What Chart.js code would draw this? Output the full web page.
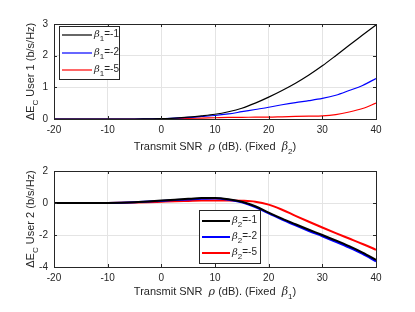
<!DOCTYPE html>
<html>
<head>
<meta charset="utf-8">
<script src="https://cdn.jsdelivr.net/npm/chart.js@4"></script>
<style>
  html, body { margin: 0; padding: 0; background: #fff; }
  .wrap { position: relative; width: 415px; height: 156px; }
</style>
</head>
<body>
<div class="wrap"><canvas id="top"></canvas></div>
<div class="wrap"><canvas id="bottom"></canvas></div>
<script>
// transmit SNR (dB)
const snr = [-20, -17.5, -15, -12.5, -10, -7.5, -5, -2.5, 0, 2.5, 5, 7.5, 10,
  12.5, 15, 17.5, 20, 22.5, 25, 27.5, 30, 32.5, 35, 37.5, 40];
const xTicks = [-20, -10, 0, 10, 20, 30, 40];

// user 1, fixed beta2
const user1B1 = [0, 0, 0, 0, 0, 0, 0, 0.005, 0.01, 0.03, 0.06, 0.1, 0.15,
  0.23, 0.34, 0.5, 0.69, 0.9, 1.13, 1.39, 1.68, 2.0, 2.33, 2.65, 2.97];
const user1B2 = [0, 0, 0, 0, 0, 0, 0, 0.005, 0.01, 0.03, 0.05, 0.08, 0.11,
  0.16, 0.23, 0.3, 0.37, 0.45, 0.52, 0.58, 0.65, 0.75, 0.9, 1.06, 1.28];
const user1B5 = [0, 0, 0, 0, 0, 0, 0, 0, 0.01, 0.015, 0.02, 0.03, 0.04,
  0.05, 0.05, 0.06, 0.06, 0.07, 0.08, 0.09, 0.1, 0.14, 0.22, 0.33, 0.5];
const user1Ticks = [0, 1, 2, 3];

// user 2, fixed beta1
const user2B1 = [0, 0, 0, 0, 0.005, 0.02, 0.05, 0.1, 0.15, 0.2, 0.26, 0.31, 0.32,
  0.24, 0.08, -0.2, -0.6, -0.98, -1.33, -1.67, -2.0, -2.34, -2.7, -3.1, -3.55];
const user2B2 = [0, 0, 0, 0, 0.005, 0.02, 0.05, 0.09, 0.13, 0.18, 0.22, 0.26, 0.28,
  0.21, 0.05, -0.25, -0.65, -1.03, -1.4, -1.75, -2.08, -2.42, -2.78, -3.18, -3.65];
const user2B5 = [0, 0, 0, 0, 0.005, 0.015, 0.03, 0.05, 0.08, 0.11, 0.13, 0.15, 0.16,
  0.16, 0.14, 0.08, -0.1, -0.42, -0.8, -1.17, -1.53, -1.88, -2.22, -2.56, -2.92];
const user2Ticks = [-4, -2, 0, 2];

const betaLabels = ["-1", "-2", "-5"];
const lineColors = ["#000000", "#0000ff", "#ff0000"];

const FONT = "Liberation Sans, Arial, Helvetica, sans-serif";
const TXT = "#262626";

function setFont(ctx, mode, size) {
  if (mode === "s") ctx.font = Math.round(size * 0.75) + "px " + FONT;
  else if (mode === "i") ctx.font = "italic " + size + "px DejaVu Serif, serif";
  else ctx.font = size + "px " + FONT;
}

function drawParts(ctx, parts, x, y, size) {
  let cx = x;
  parts.forEach(([t, mode]) => {
    setFont(ctx, mode, size);
    ctx.fillText(t, cx, mode === "s" ? y + size * 0.35 : y);
    cx += ctx.measureText(t).width;
  });
  return cx - x;
}

function measureParts(ctx, parts, size) {
  let w = 0;
  parts.forEach(([t, mode]) => {
    setFont(ctx, mode, size);
    w += ctx.measureText(t).width;
  });
  return w;
}

function framePlugin(cfg) {
  return {
    id: "frame_" + cfg.id,
    afterDraw(chart) {
      const ctx = chart.ctx;
      const a = chart.chartArea;
      const xs = chart.scales.x, ys = chart.scales.y;
      ctx.save();
      // box
      ctx.strokeStyle = TXT;
      ctx.lineWidth = 1;
      ctx.strokeRect(Math.round(a.left) + 0.5, Math.round(a.top) + 0.5,
        Math.round(a.right - a.left), Math.round(a.bottom - a.top));
      // inward ticks
      ctx.beginPath();
      xTicks.forEach((v) => {
        const px = Math.round(xs.getPixelForValue(v)) + 0.5;
        ctx.moveTo(px, a.bottom); ctx.lineTo(px, a.bottom - 3);
        ctx.moveTo(px, a.top); ctx.lineTo(px, a.top + 3);
      });
      cfg.yTicks.forEach((v) => {
        const py = Math.round(ys.getPixelForValue(v)) + 0.5;
        ctx.moveTo(a.left, py); ctx.lineTo(a.left + 3, py);
        ctx.moveTo(a.right, py); ctx.lineTo(a.right - 3, py);
      });
      ctx.stroke();

      // x title
      ctx.fillStyle = TXT;
      ctx.textBaseline = "alphabetic";
      ctx.textAlign = "left";
      const xParts = [["Transmit SNR  ", "n"], ["ρ", "i"], [" (dB). (Fixed  ", "n"], ["β", "i"], [cfg.fixedSub, "s"], [")", "n"]];
      const xw = measureParts(ctx, xParts, 11);
      drawParts(ctx, xParts, (a.left + a.right) / 2 - xw / 2, cfg.xTitleY, 11);

      // y title (rotated)
      ctx.save();
      ctx.translate(34, (a.top + a.bottom) / 2);
      ctx.rotate(-Math.PI / 2);
      const yParts = [["ΔE", "n"], ["C", "s"], [" User " + cfg.user + " (b/s/Hz)", "n"]];
      const yw = measureParts(ctx, yParts, 11);
      drawParts(ctx, yParts, -yw / 2, 0, 11);
      ctx.restore();

      // legend
      const L = cfg.legend;
      ctx.fillStyle = "#ffffff";
      ctx.fillRect(L.x, L.y, L.w, L.h);
      ctx.strokeStyle = "#262626";
      ctx.lineWidth = 1;
      ctx.strokeRect(L.x + 0.5, L.y + 0.5, L.w, L.h);
      betaLabels.forEach((b, i) => {
        const ry = L.rows[i];
        ctx.strokeStyle = lineColors[i];
        ctx.lineWidth = cfg.lineWidth;
        ctx.beginPath();
        ctx.moveTo(L.lineX0, ry); ctx.lineTo(L.lineX1, ry);
        ctx.stroke();
        ctx.fillStyle = TXT;
        drawParts(ctx, [["β", "i"], [cfg.legendSub, "s"], ["=" + b, "n"]], L.textX, ry + 2, 10);
      });
      ctx.restore();
    }
  };
}

function makeChart(id, series, yMin, yMax, yTicks, cfg) {
  const datasets = series.map((s, i) => ({
    label: "β=" + betaLabels[i],
    data: snr.map((x, j) => ({ x: x, y: s[j] })),
    borderColor: lineColors[i],
    borderWidth: cfg.lineWidth,
    pointRadius: 0,
    fill: false,
    cubicInterpolationMode: "monotone"
  }));
  cfg.yTicks = yTicks;
  return new Chart(document.getElementById(id), {
    type: "line",
    data: { datasets: datasets },
    options: {
      responsive: true,
      maintainAspectRatio: false,
      animation: false,
      layout: { padding: { left: 0, right: 39, top: cfg.top, bottom: 0 } },
      plugins: { legend: { display: false }, tooltip: { enabled: false } },
      scales: {
        x: {
          type: "linear",
          min: -20, max: 40,
          afterBuildTicks: (s) => { s.ticks = xTicks.map((v) => ({ value: v })); },
          afterFit: (s) => { s.height = cfg.xAxisH; },
          grid: { color: "#e4e4e4", drawTicks: false },
          border: { display: false },
          ticks: { color: TXT, font: { family: FONT, size: 10 }, padding: 5, maxRotation: 0 }
        },
        y: {
          min: yMin, max: yMax,
          afterBuildTicks: (s) => { s.ticks = yTicks.map((v) => ({ value: v })); },
          afterFit: (s) => { s.width = 54; },
          grid: { color: "#e4e4e4", drawTicks: false },
          border: { display: false },
          ticks: { color: TXT, font: { family: FONT, size: 10 }, padding: 6 }
        }
      }
    },
    plugins: [framePlugin(cfg)]
  });
}

makeChart("top", [user1B1, user1B2, user1B5], 0, 3, user1Ticks, {
  id: "top", top: 24, xAxisH: 37, lineWidth: 1.2, user: 1, fixedSub: "2", legendSub: "1",
  xTitleY: 150,
  legend: { x: 59, y: 26, w: 60, h: 53, rows: [35, 53, 70], lineX0: 62, lineX1: 92, textX: 94 }
});

makeChart("bottom", [user2B1, user2B2, user2B5], -4, 2, user2Ticks, {
  id: "bottom", top: 15, xAxisH: 45, lineWidth: 2, user: 2, fixedSub: "1", legendSub: "2",
  xTitleY: 139,
  legend: { x: 199, y: 54, w: 61, h: 53, rows: [65, 81, 97], lineX0: 202, lineX1: 230, textX: 232 }
});
</script>
</body>
</html>
